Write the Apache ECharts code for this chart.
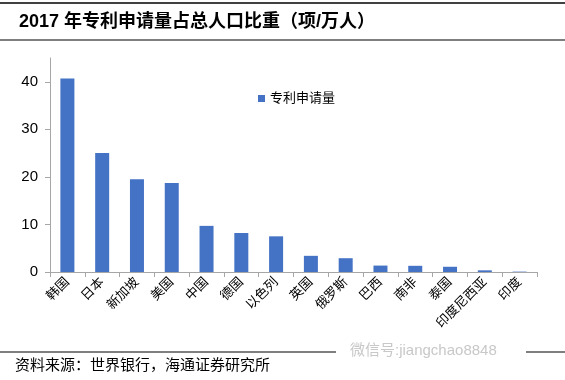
<!DOCTYPE html>
<html><head><meta charset="utf-8">
<script src="https://cdn.jsdelivr.net/npm/echarts@6/dist/echarts.min.js"></script>
<style>html,body{margin:0;padding:0;background:#fff}#c{width:565px;height:380px}</style>
</head><body><div id="c"></div>
<script>
const categories = ['韩国','日本','新加坡','美国','中国','德国','以色列','英国','俄罗斯','巴西','南非','泰国','印度尼西亚','印度'];
const seriesName = '专利申请量';
const values = [40.7, 25.0, 19.5, 18.7, 9.7, 8.2, 7.5, 3.4, 2.9, 1.35, 1.3, 1.1, 0.35, 0.08];
const yTicks = [0, 10, 20, 30, 40];
const titleText = '2017 年专利申请量占总人口比重（项/万人）';
const sourceText = '资料来源：世界银行，海通证券研究所';
const watermark = '微信号:jiangchao8848';

const chart = echarts.init(document.getElementById('c'));
const cjk = '"Liberation Sans", "Noto Sans CJK SC", sans-serif';
chart.setOption({
  animation: false,
  backgroundColor: '#fff',
  title: {
    text: titleText, left: 14, top: 8,
    textStyle: {fontSize: 18, fontWeight: 'bold', color: '#000', fontFamily: cjk}
  },
  legend: {
    data: [seriesName], left: 253, top: 87, icon: 'rect', itemWidth: 7, itemHeight: 7, itemGap: 5,
    textStyle: {fontSize: 13, color: '#000', fontFamily: cjk}
  },
  grid: {left: 50, right: 28, top: 58, bottom: 108},
  xAxis: {
    type: 'category', data: categories,
    axisLine: {lineStyle: {color: '#a6a6a6', width: 1}},
    axisTick: {show: true, alignWithLabel: false, length: 5, lineStyle: {color: '#a6a6a6'}},
    axisLabel: {rotate: 45, interval: 0, fontSize: 13, color: '#000', margin: 8, fontFamily: cjk}
  },
  yAxis: {
    type: 'value', min: 0, max: 45,
    axisLine: {show: true, lineStyle: {color: '#a6a6a6', width: 1}},
    axisTick: {show: true, length: 5, customValues: yTicks, lineStyle: {color: '#a6a6a6'}},
    axisLabel: {customValues: yTicks, fontSize: 15, color: '#000', margin: 12, fontFamily: cjk},
    splitLine: {show: false}
  },
  series: [{
    name: seriesName, type: 'bar', data: values, barWidth: 14,
    itemStyle: {color: '#4472C4'}
  }],
  graphic: [
    {type: 'line', shape: {x1: 0, y1: 3, x2: 565, y2: 3}, style: {stroke: '#000', lineWidth: 1.5}},
    {type: 'line', shape: {x1: 0, y1: 40, x2: 565, y2: 40}, style: {stroke: '#000', lineWidth: 1.2}},
    {type: 'line', shape: {x1: 0, y1: 352, x2: 565, y2: 352}, style: {stroke: '#000', lineWidth: 1.2}},
    {type: 'rect', shape: {x: 336, y: 342, width: 190, height: 18}, style: {fill: '#fff'}},
    {type: 'text', left: 350, top: 343, style: {text: watermark, fontSize: 15, fill: '#c8c8c8', fontFamily: cjk}},
    {type: 'text', left: 15, top: 358, style: {text: sourceText, fontSize: 15, fill: '#000', fontFamily: cjk}}
  ]
});
</script></body></html>
